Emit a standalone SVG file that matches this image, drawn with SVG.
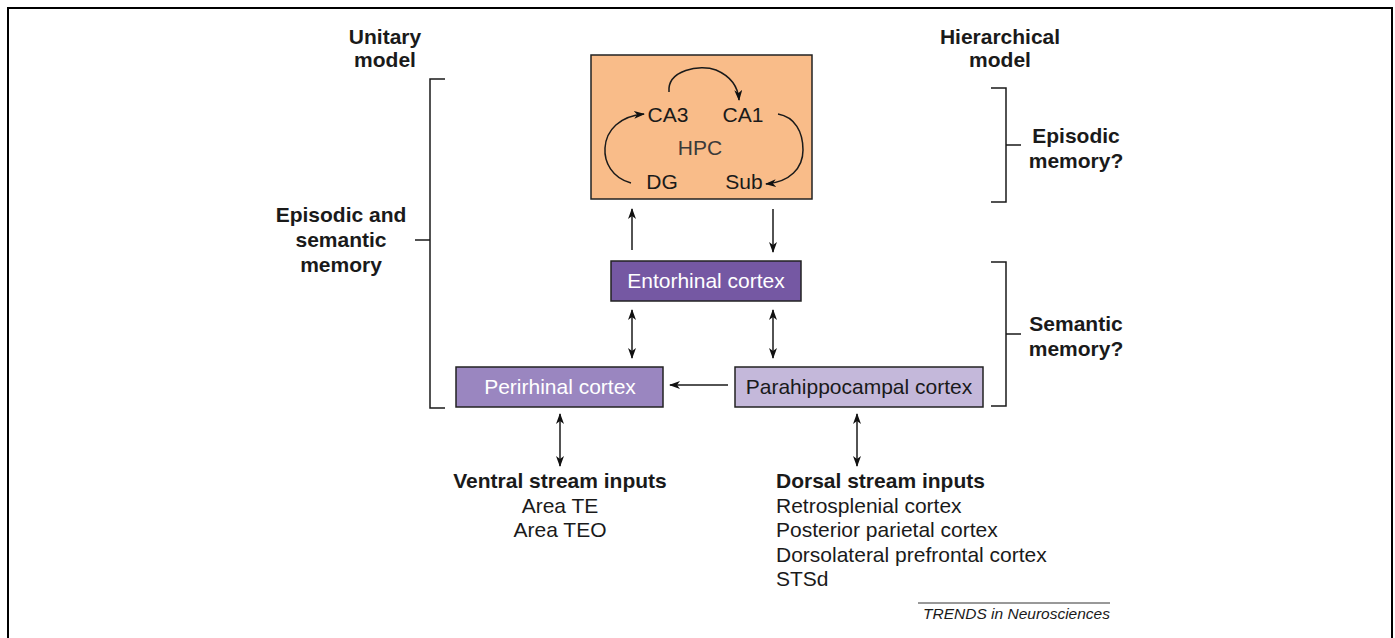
<svg xmlns="http://www.w3.org/2000/svg" width="1395" height="638" viewBox="0 0 1395 638">
<defs>
<marker id="ah" viewBox="0 0 11 8" refX="10" refY="4" markerWidth="11" markerHeight="8" markerUnits="userSpaceOnUse" orient="auto-start-reverse">
<path d="M0,0 L11,4 L0,8 L3,4 z" fill="#111"/>
</marker>
</defs>
<style>
text{font-family:"Liberation Sans",Arial,sans-serif;fill:#1a1a1a}
.b{font-weight:bold;font-size:21px;text-anchor:middle}
.n{font-size:21px}
.c{text-anchor:middle}
.w{fill:#fff}
.ln{stroke:#1a1a1a;stroke-width:1.5;fill:none}
.ar{stroke:#1a1a1a;stroke-width:1.5;fill:none;marker-end:url(#ah)}
.ar2{stroke:#1a1a1a;stroke-width:1.5;fill:none;marker-end:url(#ah);marker-start:url(#ah)}
.box{stroke:#222;stroke-width:1.5}
</style>
<rect x="8" y="8" width="1384" height="640" fill="#fff" stroke="#000" stroke-width="2"/>

<g id="hpc">
<rect class="box" x="591" y="55" width="221" height="144" fill="#F9BC89"/>
<text class="n c" x="668" y="122">CA3</text>
<text class="n c" x="743" y="122">CA1</text>
<text class="n c" x="700" y="155" style="fill:#3a3a3a">HPC</text>
<text class="n c" x="662" y="189">DG</text>
<text class="n c" x="744" y="189">Sub</text>
<path class="ar" d="M669,92 C667,70 700,64 716,70 C730,76 738,86 739,100"/>
<path class="ar" d="M631,183 C612,178 604,162 605,148 C606,130 620,116 644,114"/>
<path class="ar" d="M778,114 C795,117 803,132 803,150 C803,168 790,182 766,184"/>
</g>

<g id="entorhinal">
<rect class="box" x="611" y="261" width="190" height="40" fill="#7558A3"/>
<text class="n c w" x="706" y="288">Entorhinal cortex</text>
</g>
<g id="perirhinal">
<rect class="box" x="456" y="367" width="207" height="40" fill="#9A86C0"/>
<text class="n c w" x="560" y="394">Perirhinal cortex</text>
</g>
<g id="parahippocampal">
<rect class="box" x="735" y="367" width="248" height="40" fill="#C4B8DA"/>
<text class="n c" x="859" y="394">Parahippocampal cortex</text>
</g>

<g id="connectors">
<path class="ar" d="M632,250 L632,209"/>
<path class="ar" d="M773,209 L773,252"/>
<path class="ar2" d="M632,310 L632,358"/>
<path class="ar2" d="M773,310 L773,358"/>
<path class="ar" d="M728,385 L670,385"/>
<path class="ar2" d="M560,414 L560,466"/>
<path class="ar2" d="M857,414 L857,466"/>
</g>

<g id="unitary">
<text class="b" x="385" y="44">Unitary</text>
<text class="b" x="385" y="67">model</text>
<path class="ln" d="M445,79 L430,79 L430,408 L445,408 M430,240 L415,240"/>
<text class="b" x="341" y="222">Episodic and</text>
<text class="b" x="341" y="247">semantic</text>
<text class="b" x="341" y="272">memory</text>
</g>

<g id="hierarchical">
<text class="b" x="1000" y="44">Hierarchical</text>
<text class="b" x="1000" y="67">model</text>
<path class="ln" d="M991,88 L1006,88 L1006,202 L991,202 M1006,145 L1021,145"/>
<text class="b" x="1076" y="143">Episodic</text>
<text class="b" x="1076" y="168">memory?</text>
<path class="ln" d="M991,262 L1006,262 L1006,406 L991,406 M1006,334 L1021,334"/>
<text class="b" x="1076" y="331">Semantic</text>
<text class="b" x="1076" y="356">memory?</text>
</g>

<g id="ventral">
<text class="b" x="560" y="488">Ventral stream inputs</text>
<text class="n c" x="560" y="513">Area TE</text>
<text class="n c" x="560" y="537">Area TEO</text>
</g>
<g id="dorsal">
<text class="n" x="776" y="488" font-weight="bold">Dorsal stream inputs</text>
<text class="n" x="776" y="513">Retrosplenial cortex</text>
<text class="n" x="776" y="537">Posterior parietal cortex</text>
<text class="n" x="776" y="562">Dorsolateral prefrontal cortex</text>
<text class="n" x="776" y="586">STSd</text>
</g>

<g id="credit">
<path d="M918,603 L1110,603" stroke="#333" stroke-width="1"/>
<text x="1110" y="619" font-size="15.5" font-style="italic" text-anchor="end" fill="#333">TRENDS in Neurosciences</text>
</g>
</svg>
